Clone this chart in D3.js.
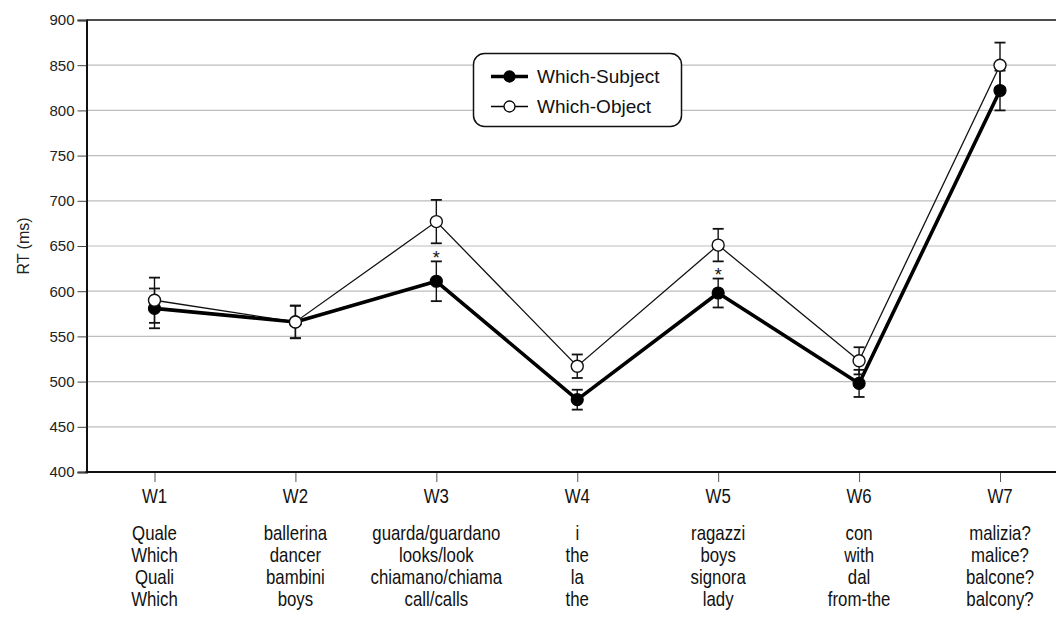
<!DOCTYPE html>
<html>
<head>
<meta charset="utf-8">
<script src="https://cdn.jsdelivr.net/npm/d3@7"></script>
<style>
  html, body { margin: 0; padding: 0; background: #fff; }
  svg { display: block; font-family: "Liberation Sans", Arial, sans-serif; }
</style>
</head>
<body>
<svg id="chart" width="1056" height="623"></svg>
<script>
const categories = ["W1", "W2", "W3", "W4", "W5", "W6", "W7"];
const italianLine1 = ["Quale", "ballerina", "guarda/guardano", "i", "ragazzi", "con", "malizia?"];
const englishLine1 = ["Which", "dancer", "looks/look", "the", "boys", "with", "malice?"];
const italianLine2 = ["Quali", "bambini", "chiamano/chiama", "la", "signora", "dal", "balcone?"];
const englishLine2 = ["Which", "boys", "call/calls", "the", "lady", "from-the", "balcony?"];

const subjectMeans = [581, 566, 611, 480, 598, 498, 822];
const subjectErrors = [22, 18, 22, 11, 16, 15, 22];
const objectMeans = [590, 566, 677, 517, 651, 523, 850];
const objectErrors = [25, 18, 24, 13, 18, 15, 25];
const significant = [false, false, true, false, true, false, false];

const yTicks = [400, 450, 500, 550, 600, 650, 700, 750, 800, 850, 900];
const seriesNames = ["Which-Subject", "Which-Object"];

const svg = d3.select("#chart");
const plotLeft = 86.5, plotTop = 20, plotBottom = 472, plotRight = 1080;

const x = d3.scalePoint().domain(categories).range([154.5, 1000]);
const y = d3.scaleLinear().domain([400, 900]).range([plotBottom, plotTop]);

// gridlines
svg.append("g").selectAll("line").data(yTicks.filter(t => t > 400 && t < 900)).join("line")
  .attr("x1", plotLeft).attr("x2", plotRight)
  .attr("y1", d => y(d)).attr("y2", d => y(d))
  .attr("stroke", "#bdbdbd").attr("stroke-width", 1.2);

// frame
svg.append("line").attr("x1", plotLeft).attr("x2", plotRight).attr("y1", y(900)).attr("y2", y(900))
  .attr("stroke", "#111").attr("stroke-width", 1.5);

// y axis
const yAxis = d3.axisLeft(y).tickValues(yTicks).tickSize(9).tickPadding(3);
const gy = svg.append("g").attr("transform", `translate(${plotLeft},0)`).call(yAxis);
gy.select(".domain").attr("stroke", "#111").attr("stroke-width", 2);
gy.selectAll(".tick line").attr("stroke", "#444");
gy.selectAll(".tick text").attr("font-size", 15).attr("fill", "#222")
  .attr("font-family", "Liberation Sans, Arial, sans-serif");

// x axis
const xAxis = d3.axisBottom(x).tickSize(10).tickFormat("");
const gx = svg.append("g").attr("transform", `translate(0,${plotBottom})`).call(xAxis);
gx.select(".domain").remove();
gx.selectAll(".tick line").attr("stroke", "#555").attr("stroke-width", 1);
svg.append("line").attr("x1", plotLeft - 1).attr("x2", plotRight).attr("y1", plotBottom).attr("y2", plotBottom)
  .attr("stroke", "#111").attr("stroke-width", 2.2);

// category labels (tall, condensed look)
const labelRows = [categories, italianLine1, englishLine1, italianLine2, englishLine2];
const rowBaselines = [503, 540, 562, 584, 606];
labelRows.forEach((row, i) => {
  svg.append("g").selectAll("text").data(row).join("text")
    .attr("transform", (d, j) => `translate(${x(categories[j])},${rowBaselines[i]}) scale(0.82,1)`)
    .attr("text-anchor", "middle")
    .attr("font-size", 20.5)
    .attr("fill", "#111")
    .text(d => d);
});

// y title
svg.append("text")
  .attr("transform", `translate(29,${(plotTop + plotBottom) / 2}) rotate(-90)`)
  .attr("text-anchor", "middle").attr("font-size", 16).attr("fill", "#222")
  .text("RT (ms)");

// lines
const line = d3.line().x((d, i) => x(categories[i])).y(d => y(d));
svg.append("path").datum(objectMeans).attr("d", line)
  .attr("fill", "none").attr("stroke", "#111").attr("stroke-width", 1.3);
svg.append("path").datum(subjectMeans).attr("d", line)
  .attr("fill", "none").attr("stroke", "#000").attr("stroke-width", 3.6).attr("stroke-linejoin", "round");

// error bars
function errorBars(means, errs) {
  const g = svg.append("g").attr("stroke", "#111").attr("stroke-width", 1.4);
  means.forEach((m, i) => {
    const cx = x(categories[i]);
    g.append("line").attr("x1", cx).attr("x2", cx).attr("y1", y(m - errs[i])).attr("y2", y(m + errs[i]));
    [m - errs[i], m + errs[i]].forEach(v => {
      g.append("line").attr("x1", cx - 5.5).attr("x2", cx + 5.5).attr("y1", y(v)).attr("y2", y(v)).attr("stroke-width", 1.8);
    });
  });
}
errorBars(objectMeans, objectErrors);
errorBars(subjectMeans, subjectErrors);

// markers
svg.append("g").selectAll("circle").data(subjectMeans).join("circle")
  .attr("cx", (d, i) => x(categories[i])).attr("cy", d => y(d)).attr("r", 6)
  .attr("fill", "#000").attr("stroke", "#000").attr("stroke-width", 1.2);
svg.append("g").selectAll("circle").data(objectMeans).join("circle")
  .attr("cx", (d, i) => x(categories[i])).attr("cy", d => y(d)).attr("r", 6)
  .attr("fill", "#fff").attr("stroke", "#111").attr("stroke-width", 1.4);

// significance stars
svg.append("g").selectAll("text").data(categories.filter((c, i) => significant[i])).join("text")
  .attr("x", c => x(c))
  .attr("y", c => { const i = categories.indexOf(c); return y(subjectMeans[i] + subjectErrors[i]) + 2.5; })
  .attr("text-anchor", "middle").attr("font-size", 18).attr("fill", "#111")
  .text("*");

// legend
const lg = svg.append("g");
lg.append("rect").attr("x", 473.5).attr("y", 53.5).attr("width", 208).attr("height", 73)
  .attr("rx", 11).attr("fill", "#fff").attr("stroke", "#111").attr("stroke-width", 1.5);
const legendRows = [
  { name: seriesNames[0], width: 3.6, fill: "#000" },
  { name: seriesNames[1], width: 1.3, fill: "#fff" }
];
legendRows.forEach((r, i) => {
  const ly = 76.5 + i * 30;
  lg.append("line").attr("x1", 491).attr("x2", 528).attr("y1", ly).attr("y2", ly)
    .attr("stroke", "#000").attr("stroke-width", r.width);
  lg.append("circle").attr("cx", 509.5).attr("cy", ly).attr("r", 5.5)
    .attr("fill", r.fill).attr("stroke", "#000").attr("stroke-width", 1.3);
  lg.append("text").attr("x", 537).attr("y", ly + 6.5).attr("font-size", 19).attr("fill", "#111").text(r.name);
});
</script>
</body>
</html>
